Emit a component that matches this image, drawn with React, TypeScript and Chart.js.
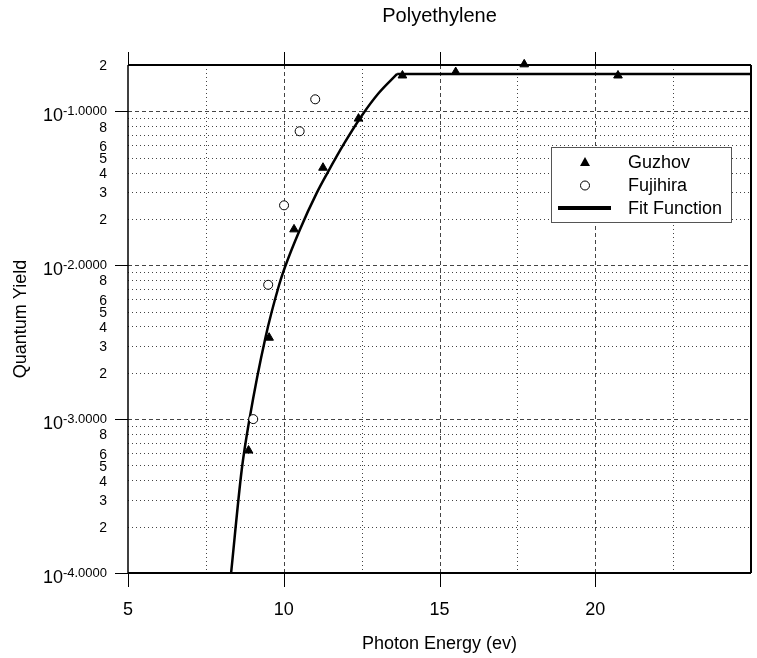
import React, { useEffect, useRef } from 'react';
import { Chart, registerables } from 'chart.js';

Chart.register(...registerables);

const FONT = '"Liberation Sans", Arial, Helvetica, sans-serif';

// ---- data ----
const guzhovEnergy = [8.87, 9.53, 10.33, 11.26, 12.4, 13.81, 15.52, 17.72, 20.73];
const guzhovYield = [6.25e-4, 3.38e-3, 0.0171, 0.043, 0.0897, 0.171, 0.18, 0.202, 0.171];

const fujihiraEnergy = [9.02, 9.5, 10.01, 10.51, 11.01];
const fujihiraYield = [1.0e-3, 7.46e-3, 0.0245, 0.0742, 0.1197];

const fitEnergy = [8.31, 8.65, 8.9, 9.41, 9.85, 10.04, 10.51, 11.06, 11.4, 11.95, 12.52, 13.05, 13.64];
const fitYield = [1e-4, 4.67e-4, 1.0e-3, 3.37e-3, 7.44e-3, 9.74e-3, 0.0169, 0.0295, 0.0397, 0.0623, 0.0947, 0.1315, 0.175];

const plateauEnergy = [13.64, 25];
const plateauYield = [0.175, 0.175];

// ---- axes / ticks ----
const xMin = 5;
const xMax = 25;
const yMin = 1e-4;
const yMax = 0.2;
const xMajorTicks = [5, 10, 15, 20];
const xMinorTicks = [7.5, 12.5, 17.5, 22.5];
const yDecades = [1e-4, 1e-3, 1e-2, 1e-1];
const yDecadeExponents = ['-4.0000', '-3.0000', '-2.0000', '-1.0000'];
const yMinorMultipliers = [2, 3, 4, 5, 6, 7, 8, 9];
const yMinorLabelled = [2, 3, 4, 5, 6, 8];

const titleText = 'Polyethylene';
const xTitleText = 'Photon Energy (ev)';
const yTitleText = 'Quantum Yield';
const legendLabels = ['Guzhov', 'Fujihira', 'Fit Function'];

const toPoints = (xs: number[], ys: number[]) => xs.map((x, i) => ({ x, y: ys[i] }));

const decor = {
  id: 'decor',
  beforeDatasetsDraw(chart: any) {
    const { ctx, chartArea: a, scales } = chart;
    const xs = scales.x;
    const ys = scales.y;
    ctx.save();
    ctx.lineWidth = 1;
    ctx.strokeStyle = '#444';
    // minor horizontal dotted
    ctx.setLineDash([1, 3]);
    ctx.beginPath();
    yDecades.forEach((d) => {
      yMinorMultipliers.forEach((m) => {
        const v = d * m;
        if (v >= yMax * 0.999) return;
        const py = Math.round(ys.getPixelForValue(v)) + 0.5;
        ctx.moveTo(a.left, py);
        ctx.lineTo(a.right, py);
      });
    });
    // minor vertical dotted
    xMinorTicks.forEach((t) => {
      const px = Math.round(xs.getPixelForValue(t)) + 0.5;
      ctx.moveTo(px, a.top);
      ctx.lineTo(px, a.bottom);
    });
    ctx.stroke();
    // major dashed
    ctx.setLineDash([4, 3]);
    ctx.beginPath();
    yDecades.forEach((d) => {
      if (d <= yMin) return;
      const py = Math.round(ys.getPixelForValue(d)) + 0.5;
      ctx.moveTo(a.left, py);
      ctx.lineTo(a.right, py);
    });
    xMajorTicks.forEach((t) => {
      if (t <= xMin) return;
      const px = Math.round(xs.getPixelForValue(t)) + 0.5;
      ctx.moveTo(px, a.top);
      ctx.lineTo(px, a.bottom);
    });
    ctx.stroke();
    ctx.restore();
  },
  afterDatasetsDraw(chart: any) {
    const { ctx, chartArea: a, scales } = chart;
    const xs = scales.x;
    const ys = scales.y;
    ctx.save();
    ctx.setLineDash([]);
    ctx.strokeStyle = '#000';
    // tick marks
    ctx.lineWidth = 1;
    ctx.beginPath();
    xMajorTicks.forEach((t) => {
      const px = Math.round(xs.getPixelForValue(t)) + 0.5;
      ctx.moveTo(px, a.top - 13);
      ctx.lineTo(px, a.top);
      ctx.moveTo(px, a.bottom);
      ctx.lineTo(px, a.bottom + 14);
    });
    yDecades.forEach((d) => {
      const py = Math.round(ys.getPixelForValue(d)) + 0.5;
      ctx.moveTo(a.left - 13, py);
      ctx.lineTo(a.left, py);
    });
    ctx.stroke();
    // frame
    ctx.lineWidth = 2;
    ctx.beginPath();
    ctx.moveTo(a.left, a.top);
    ctx.lineTo(a.right, a.top);
    ctx.moveTo(a.left, a.bottom);
    ctx.lineTo(a.right, a.bottom);
    ctx.moveTo(a.right, a.top);
    ctx.lineTo(a.right, a.bottom);
    ctx.stroke();
    ctx.lineWidth = 1.5;
    ctx.beginPath();
    ctx.moveTo(a.left, a.top);
    ctx.lineTo(a.left, a.bottom);
    ctx.stroke();

    // legend
    const lx = 551.5;
    const ly = 147.5;
    ctx.fillStyle = '#fff';
    ctx.fillRect(lx, ly, 180, 75);
    ctx.strokeStyle = '#555';
    ctx.lineWidth = 1;
    ctx.strokeRect(lx, ly, 180, 75);
    // triangle
    ctx.fillStyle = '#000';
    ctx.beginPath();
    ctx.moveTo(585, 157);
    ctx.lineTo(590, 166);
    ctx.lineTo(580, 166);
    ctx.closePath();
    ctx.fill();
    // circle
    ctx.fillStyle = '#fff';
    ctx.strokeStyle = '#000';
    ctx.beginPath();
    ctx.arc(585, 185.5, 4.5, 0, Math.PI * 2);
    ctx.fill();
    ctx.stroke();
    // line
    ctx.lineWidth = 4;
    ctx.beginPath();
    ctx.moveTo(558, 208);
    ctx.lineTo(611, 208);
    ctx.stroke();
    ctx.fillStyle = '#000';
    ctx.font = `18px ${FONT}`;
    ctx.textAlign = 'left';
    ctx.textBaseline = 'alphabetic';
    ctx.fillText(legendLabels[0], 628, 168);
    ctx.fillText(legendLabels[1], 628, 191);
    ctx.fillText(legendLabels[2], 628, 214);
    ctx.restore();
  },
  afterDraw(chart: any) {
    const { ctx, chartArea: a, scales } = chart;
    const xs = scales.x;
    const ys = scales.y;
    ctx.save();
    ctx.fillStyle = '#000';
    // title
    ctx.font = `20px ${FONT}`;
    ctx.textAlign = 'center';
    ctx.textBaseline = 'alphabetic';
    ctx.fillText(titleText, (a.left + a.right) / 2, 22);
    // x tick labels
    ctx.font = `18px ${FONT}`;
    xMajorTicks.forEach((t) => {
      ctx.fillText(String(t), xs.getPixelForValue(t), 615);
    });
    // x title
    ctx.font = `18px ${FONT}`;
    ctx.fillText(xTitleText, (a.left + a.right) / 2, 649);
    // y title
    ctx.save();
    ctx.translate(26, (a.top + a.bottom) / 2);
    ctx.rotate(-Math.PI / 2);
    ctx.textAlign = 'center';
    ctx.fillText(yTitleText, 0, 0);
    ctx.restore();
    // y labels
    const rx = 107;
    ctx.textAlign = 'right';
    ctx.font = `14px ${FONT}`;
    ctx.textBaseline = 'middle';
    yDecades.forEach((d) => {
      yMinorLabelled.forEach((m) => {
        const v = d * m;
        if (v > yMax * 1.001) return;
        ctx.fillText(String(m), rx, ys.getPixelForValue(v) + 1.5);
      });
    });
    ctx.textBaseline = 'alphabetic';
    yDecades.forEach((d, i) => {
      const py = ys.getPixelForValue(d);
      ctx.font = `13px ${FONT}`;
      const exp = yDecadeExponents[i];
      const w = ctx.measureText(exp).width;
      ctx.fillText(exp, rx, py + 4);
      ctx.font = `18px ${FONT}`;
      ctx.fillText('10', rx - w, py + 9.5);
    });
    ctx.restore();
  },
};

export default function App() {
  const ref = useRef<HTMLCanvasElement>(null);
  useEffect(() => {
    document.body.style.margin = '0';
    const chart = new Chart(ref.current as HTMLCanvasElement, {
      type: 'scatter',
      data: {
        datasets: [
          {
            label: legendLabels[0],
            data: toPoints(guzhovEnergy, guzhovYield),
            pointStyle: 'triangle',
            pointRadius: 5,
            backgroundColor: '#000',
            borderColor: '#000',
            borderWidth: 1,
            showLine: false,
            clip: false,
          } as any,
          {
            label: legendLabels[1],
            data: toPoints(fujihiraEnergy, fujihiraYield),
            pointStyle: 'circle',
            pointRadius: 4.5,
            backgroundColor: '#fff',
            borderColor: '#000',
            borderWidth: 1,
            showLine: false,
            clip: false,
          } as any,
          {
            type: 'line',
            label: legendLabels[2],
            data: toPoints(fitEnergy, fitYield),
            borderColor: '#000',
            borderWidth: 2.5,
            pointRadius: 0,
            fill: false,
            cubicInterpolationMode: 'monotone',
          } as any,
          {
            type: 'line',
            label: legendLabels[2],
            data: toPoints(plateauEnergy, plateauYield),
            borderColor: '#000',
            borderWidth: 2.5,
            pointRadius: 0,
            fill: false,
            tension: 0,
          } as any,
        ],
      },
      options: {
        responsive: false,
        animation: false,
        devicePixelRatio: 1,
        events: [],
        layout: { padding: { left: 128, top: 65, right: 1, bottom: 85 } },
        scales: {
          x: { type: 'linear', min: xMin, max: xMax, display: false },
          y: { type: 'logarithmic', min: yMin, max: yMax, display: false },
        },
        plugins: {
          legend: { display: false },
          tooltip: { enabled: false },
          title: { display: false },
        },
      } as any,
      plugins: [decor],
    });
    return () => chart.destroy();
  }, []);
  return (
    <div style={{ position: 'absolute', left: 0, top: 0, width: 757, height: 658, background: '#fff' }}>
      <canvas ref={ref} width={757} height={658} style={{ width: 757, height: 658, display: 'block' }} />
    </div>
  );
}
